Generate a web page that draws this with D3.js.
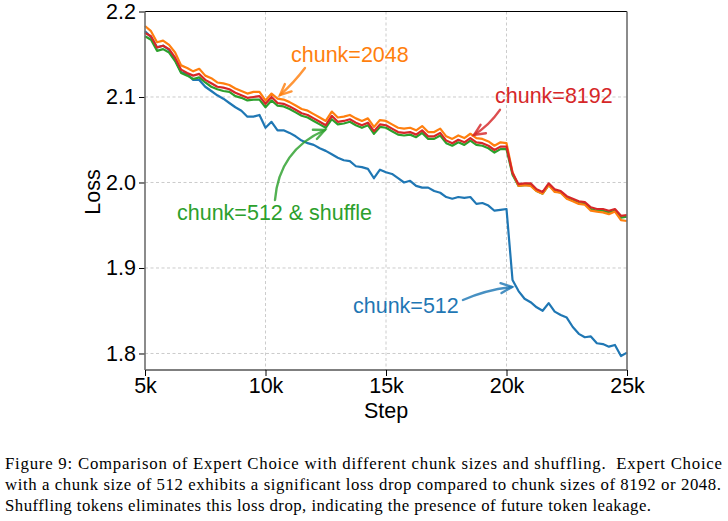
<!DOCTYPE html>
<html lang="en">
<head>
<meta charset="UTF-8">
<script src="https://d3js.org/d3.v7.min.js"></script>
<title>Expert Choice chunk sizes</title>
<style>
  body { margin: 0; background: #fff; }
  svg { display: block; }
</style>
</head>
<body>
<script>
const W = 728, H = 521;

// training steps, every 250
const steps = d3.range(5000, 25001, 250);

// loss
const loss512 = [
  2.177, 2.170, 2.158, 2.160, 2.155, 2.143, 2.129, 2.127, 2.120, 2.120,
  2.112, 2.107, 2.102, 2.098, 2.093, 2.088, 2.084, 2.077, 2.077, 2.079,
  2.064, 2.071, 2.061, 2.061, 2.058, 2.054, 2.049, 2.046, 2.044, 2.040,
  2.037, 2.033, 2.029, 2.026, 2.025, 2.019, 2.018, 2.016, 2.005, 2.015,
  2.012, 2.010, 2.005, 2.000, 2.002, 1.996, 1.994, 1.994, 1.990, 1.988,
  1.983, 1.981, 1.983, 1.982, 1.983, 1.975, 1.976, 1.973, 1.967, 1.968,
  1.969, 1.886, 1.873, 1.864, 1.860, 1.854, 1.850, 1.859, 1.849, 1.845,
  1.842, 1.831, 1.823, 1.819, 1.820, 1.812, 1.811, 1.808, 1.810, 1.797,
  1.801
];
const loss512Shuffle = [
  2.171, 2.167, 2.154, 2.156, 2.152, 2.142, 2.128, 2.125, 2.121, 2.123,
  2.117, 2.112, 2.109, 2.107, 2.106, 2.101, 2.099, 2.096, 2.097, 2.097,
  2.088, 2.096, 2.090, 2.089, 2.086, 2.082, 2.078, 2.076, 2.072, 2.068,
  2.064, 2.074, 2.068, 2.069, 2.071, 2.067, 2.064, 2.067, 2.057, 2.065,
  2.064, 2.060, 2.056, 2.055, 2.056, 2.053, 2.058, 2.051, 2.051, 2.055,
  2.046, 2.043, 2.047, 2.044, 2.049, 2.044, 2.043, 2.040, 2.035, 2.039,
  2.039, 2.009, 1.996, 1.997, 1.997, 1.990, 1.987, 1.997, 1.990, 1.988,
  1.982, 1.979, 1.976, 1.975, 1.969, 1.967, 1.967, 1.965, 1.967, 1.959,
  1.960
];
const loss2048 = [
  2.183, 2.177, 2.164, 2.166, 2.161, 2.152, 2.137, 2.134, 2.130, 2.133,
  2.125, 2.122, 2.117, 2.116, 2.114, 2.110, 2.107, 2.104, 2.106, 2.106,
  2.096, 2.104, 2.098, 2.097, 2.094, 2.090, 2.086, 2.084, 2.080, 2.076,
  2.072, 2.083, 2.076, 2.077, 2.079, 2.075, 2.072, 2.075, 2.065, 2.073,
  2.072, 2.068, 2.064, 2.063, 2.064, 2.061, 2.066, 2.059, 2.059, 2.063,
  2.054, 2.051, 2.055, 2.052, 2.057, 2.052, 2.051, 2.048, 2.043, 2.047,
  2.046, 2.012, 1.996, 1.997, 1.996, 1.990, 1.987, 1.997, 1.989, 1.988,
  1.981, 1.978, 1.975, 1.974, 1.967, 1.966, 1.965, 1.963, 1.966, 1.956,
  1.955
];
const loss8192 = [
  2.175, 2.171, 2.158, 2.160, 2.156, 2.146, 2.132, 2.128, 2.125, 2.127,
  2.120, 2.116, 2.112, 2.111, 2.109, 2.105, 2.102, 2.099, 2.100, 2.101,
  2.092, 2.100, 2.093, 2.092, 2.089, 2.085, 2.081, 2.079, 2.075, 2.071,
  2.067, 2.078, 2.071, 2.072, 2.074, 2.070, 2.067, 2.070, 2.060, 2.068,
  2.067, 2.063, 2.059, 2.058, 2.059, 2.056, 2.061, 2.054, 2.054, 2.058,
  2.049, 2.046, 2.050, 2.047, 2.052, 2.047, 2.046, 2.043, 2.038, 2.042,
  2.042, 2.011, 1.998, 1.999, 1.999, 1.992, 1.989, 1.999, 1.992, 1.990,
  1.984, 1.981, 1.978, 1.977, 1.971, 1.969, 1.969, 1.967, 1.969, 1.961,
  1.962
];

const xTicks = [5000, 10000, 15000, 20000, 25000];
const xTickLabels = ["5k", "10k", "15k", "20k", "25k"];
const yTicks = [1.8, 1.9, 2.0, 2.1, 2.2];

const series = [
  { values: loss512, color: "#1f77b4" },
  { values: loss512Shuffle, color: "#2ca02c" },
  { values: loss2048, color: "#ff7f0e" },
  { values: loss8192, color: "#d62728" }
];

// label text at [step, loss], arrow from -> to in data units
const notes = [
  { text: "chunk=2048", color: "#ff7f0e", at: [11058, 2.141], from: [11638, 2.134], to: [10601, 2.1023], bend: 0.05 },
  { text: "chunk=8192", color: "#d62728", at: [19522, 2.093], from: [19729, 2.085], to: [18650, 2.0556], bend: 0.1 },
  { text: "chunk=512 & shuffle", color: "#2ca02c", at: [6328, 1.956], from: [10394, 1.9795], to: [12468, 2.0614], bend: 0.3 },
  { text: "chunk=512", color: "#1f77b4", at: [13630, 1.8474], from: [18194, 1.8626], to: [20227, 1.8778], bend: 0.08 }
];

const captionLines = [
  "Figure 9: Comparison of Expert Choice with different chunk sizes and shuffling.  Expert Choice",
  "with a chunk size of 512 exhibits a significant loss drop compared to chunk sizes of 8192 or 2048.",
  "Shuffling tokens eliminates this loss drop, indicating the presence of future token leakage."
];

const mLeft = 145, mRight = 627, mTop = 11.5, mBottom = 370;
const font = "'Liberation Sans', Arial, sans-serif";
const fs = 21.5;

const svg = d3.select("body").append("svg")
  .attr("width", W).attr("height", H)
  .style("background", "#fff");

const x = d3.scaleLinear().domain([5000, 25000]).range([mLeft, mRight]);
const y = d3.scaleLinear().domain([1.7807, 2.2]).range([mBottom, mTop]);

// grid
svg.append("g").selectAll("line")
  .data(xTicks.slice(1, -1)).join("line")
  .attr("x1", d => x(d)).attr("x2", d => x(d))
  .attr("y1", mTop).attr("y2", mBottom)
  .attr("stroke", "#c6c6c6").attr("stroke-width", 0.9)
  .attr("stroke-dasharray", "3,2.5");
svg.append("g").selectAll("line")
  .data(yTicks.slice(0, -1)).join("line")
  .attr("x1", mLeft).attr("x2", mRight)
  .attr("y1", d => y(d)).attr("y2", d => y(d))
  .attr("stroke", "#c6c6c6").attr("stroke-width", 0.9)
  .attr("stroke-dasharray", "3,2.5");

// curves
const line = d3.line().x((d, i) => x(steps[i])).y(d => y(d));
svg.append("g").selectAll("path")
  .data(series).join("path")
  .attr("d", d => line(d.values))
  .attr("fill", "none")
  .attr("stroke", d => d.color)
  .attr("stroke-width", 2.2)
  .attr("stroke-linejoin", "round");

// axes
const xAxis = svg.append("g")
  .attr("transform", `translate(0,${mBottom})`)
  .call(d3.axisBottom(x).tickValues(xTicks)
    .tickFormat((d, i) => xTickLabels[i]).tickSize(6).tickPadding(2));
const yAxis = svg.append("g")
  .attr("transform", `translate(${mLeft},0)`)
  .call(d3.axisLeft(y).tickValues(yTicks)
    .tickFormat(d3.format(".1f")).tickSize(6).tickPadding(3));
[xAxis, yAxis].forEach(g => {
  g.select(".domain").remove();
  g.selectAll("text").attr("font-family", font).attr("font-size", fs).attr("fill", "#000");
  g.selectAll("line").attr("stroke", "#000").attr("stroke-width", 1);
});

// spines
svg.append("line").attr("x1", mLeft).attr("x2", mRight).attr("y1", mTop).attr("y2", mTop)
  .attr("stroke", "#000").attr("stroke-width", 1.2);
svg.append("line").attr("x1", mLeft).attr("x2", mRight).attr("y1", mBottom).attr("y2", mBottom)
  .attr("stroke", "#000").attr("stroke-width", 1.2);
svg.append("line").attr("x1", mLeft).attr("x2", mLeft).attr("y1", mTop).attr("y2", mBottom)
  .attr("stroke", "#6e6e6e").attr("stroke-width", 1.6);
svg.append("line").attr("x1", mRight).attr("x2", mRight).attr("y1", mTop).attr("y2", mBottom)
  .attr("stroke", "#6e6e6e").attr("stroke-width", 1.6);

// axis titles
svg.append("text").text("Step")
  .attr("x", (mLeft + mRight) / 2).attr("y", 417.5)
  .attr("text-anchor", "middle")
  .attr("font-family", font).attr("font-size", fs);
svg.append("text").text("Loss")
  .attr("transform", "translate(100,192) rotate(-90)")
  .attr("text-anchor", "middle")
  .attr("font-family", font).attr("font-size", fs);

// annotations
const ann = svg.append("g");
notes.forEach(n => {
  const p0 = [x(n.from[0]), y(n.from[1])];
  const p1 = [x(n.to[0]), y(n.to[1])];
  const dx = p1[0] - p0[0], dy = p1[1] - p0[1];
  const cx = (p0[0] + p1[0]) / 2 + n.bend * dy;
  const cy = (p0[1] + p1[1]) / 2 - n.bend * dx;
  ann.append("path")
    .attr("d", `M${p0[0]},${p0[1]}Q${cx},${cy} ${p1[0]},${p1[1]}`)
    .attr("fill", "none").attr("stroke", n.color)
    .attr("stroke-width", 2.4).attr("opacity", 0.82)
    .attr("stroke-linecap", "round");
  // open arrow head
  const ux = p1[0] - cx, uy = p1[1] - cy;
  const len = Math.hypot(ux, uy);
  const ex = ux / len, ey = uy / len;
  const L = 11, Wd = 5;
  const h1 = [p1[0] - L * ex - Wd * ey, p1[1] - L * ey + Wd * ex];
  const h2 = [p1[0] - L * ex + Wd * ey, p1[1] - L * ey - Wd * ex];
  ann.append("path")
    .attr("d", `M${h1}L${p1}L${h2}`)
    .attr("fill", "none").attr("stroke", n.color)
    .attr("stroke-width", 2.4).attr("opacity", 0.82)
    .attr("stroke-linecap", "round").attr("stroke-linejoin", "miter");
  ann.append("text").text(n.text)
    .attr("x", x(n.at[0])).attr("y", y(n.at[1]))
    .attr("fill", n.color)
    .attr("font-family", font).attr("font-size", fs);
});

// caption
const cap = svg.append("g")
  .attr("font-family", "'Liberation Serif', 'Times New Roman', Times, serif")
  .attr("font-size", 16.8).attr("fill", "#000");
const capWidths = [717, 716, 646];
captionLines.forEach((t, i) => {
  cap.append("text").text(t)
    .attr("x", 5).attr("y", 469 + i * 21)
    .attr("textLength", capWidths[i])
    .attr("lengthAdjust", "spacing")
    .attr("xml:space", "preserve");
});
</script>
</body>
</html>
